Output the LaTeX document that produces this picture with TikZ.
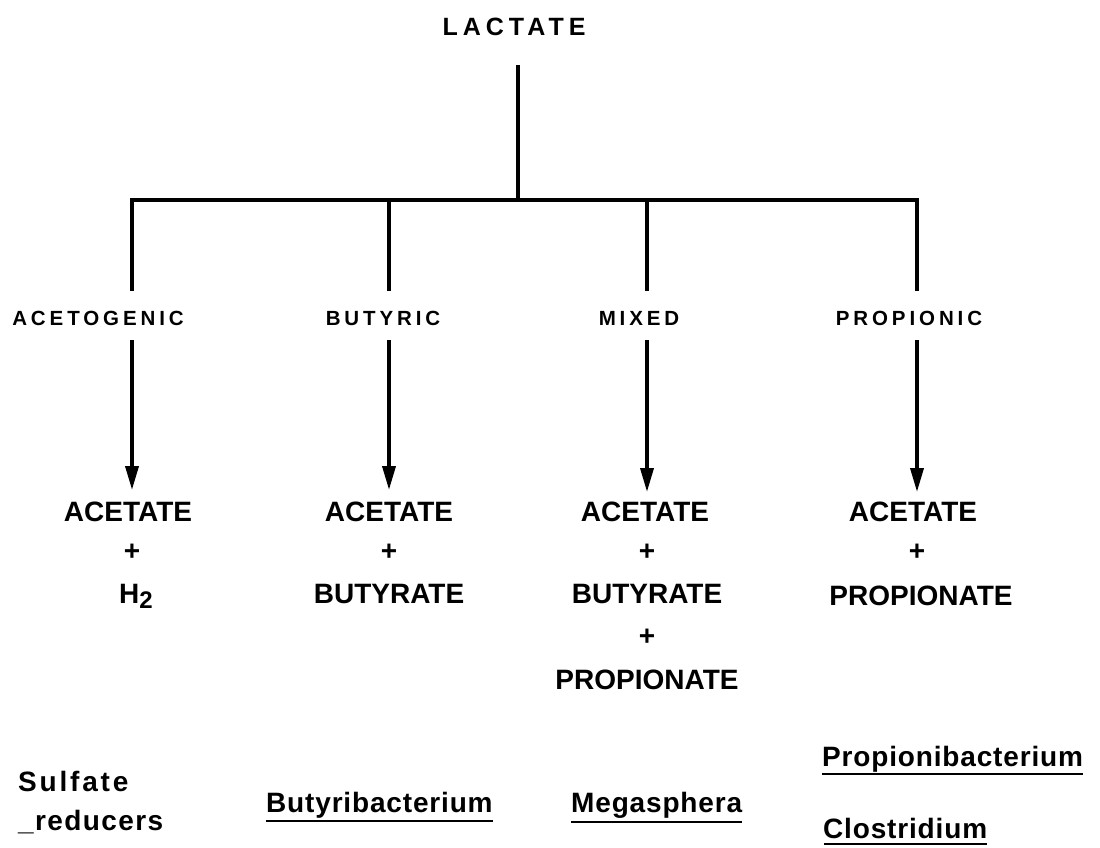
\documentclass[tikz,border=0pt]{standalone}
\usepackage{fontspec}
\setmainfont{Liberation Sans}
\usetikzlibrary{arrows.meta}
\tikzset{
  line/.style={line width=3.6pt},
  arr/.style={line width=3.6pt,-{Triangle[width=13pt,length=24pt]}},
  big/.style={inner sep=0pt,font=\fontsize{28}{34}\selectfont\bfseries},
  top/.style={inner sep=0pt,font=\fontsize{25}{30}\selectfont\bfseries\addfontfeature{LetterSpace=20}},
  lab/.style={inner sep=0pt,font=\fontsize{20.5}{24}\selectfont\bfseries\addfontfeature{LetterSpace=19}},
  org/.style={inner sep=0pt,anchor=base west,font=\fontsize{28}{34}\selectfont\bfseries\addfontfeature{LetterSpace=3}},
  uline/.style={line width=2.6pt}
}
\begin{document}
\begin{tikzpicture}[x=1pt,y=-1pt]
\useasboundingbox[fill=white] (0,0) rectangle (1100,847);
% top
\node[top,anchor=base] (lactate) at (514,35) {LACTATE};
\coordinate (ltop) at (518,65);
\coordinate (hub) at (518,200);
\coordinate (h1) at (132,200);
\coordinate (h2) at (389,200);
\coordinate (h3) at (647,200);
\coordinate (h4) at (917,200);
\draw[line] (ltop) -- (hub);
\draw[line] ([xshift=-1.8pt]h1) -- ([xshift=1.8pt]h4);
% drop ends
\coordinate (d1) at (132,291);
\coordinate (d2) at (389,291);
\coordinate (d3) at (647,291);
\coordinate (d4) at (917,291);
\draw[line] (h1) -- (d1);
\draw[line] (h2) -- (d2);
\draw[line] (h3) -- (d3);
\draw[line] (h4) -- (d4);
% labels
\node[lab,anchor=base] (acetogenic) at (98,325) {ACETOGENIC};
\node[lab,anchor=base] (butyric) at (383,325) {BUTYRIC};
\node[lab,anchor=base] (mixed) at (639,325) {MIXED};
\node[lab,anchor=base] (propionic) at (909,325) {PROPIONIC};
% arrows
\coordinate (a1) at (132,340);
\coordinate (a2) at (389,340);
\coordinate (a3) at (647,340);
\coordinate (a4) at (917,340);
\coordinate (t1) at (132,490);
\coordinate (t2) at (389,490);
\coordinate (t3) at (647,492);
\coordinate (t4) at (917,492);
\draw[arr] (a1) -- (t1);
\draw[arr] (a2) -- (t2);
\draw[arr] (a3) -- (t3);
\draw[arr] (a4) -- (t4);
% products col 1
\node[big,anchor=base] (ac1) at (128,521) {ACETATE};
\node[big] (p11) at (132,552) {+};
\node[big,anchor=base] (h2o) at (136,603) {H\raisebox{-0.4ex}{\fontsize{24}{28}\selectfont 2}};
% col 2
\node[big,anchor=base] (ac2) at (389,521) {ACETATE};
\node[big] (p21) at (389,552) {+};
\node[big,anchor=base] (bu2) at (389,603) {BUTYRATE};
% col 3
\node[big,anchor=base] (ac3) at (645,521) {ACETATE};
\node[big] (p31) at (647,552) {+};
\node[big,anchor=base] (bu3) at (647,603) {BUTYRATE};
\node[big] (p32) at (647,637) {+};
\node[big,anchor=base] (pr3) at (647,689) {PROPIONATE};
% col 4
\node[big,anchor=base] (ac4) at (913,521) {ACETATE};
\node[big] (p41) at (917,552) {+};
\node[big,anchor=base] (pr4) at (921,605) {PROPIONATE};
% organisms
\node[org,font=\fontsize{28}{34}\selectfont\bfseries\addfontfeature{LetterSpace=10}] (sulf) at (18,791) {Sulfate};
\node[org,font=\fontsize{28}{34}\selectfont\bfseries\addfontfeature{LetterSpace=5}] (red) at (18,830) {\_reducers};
\node[org] (buty) at (266,812) {Butyribacterium};
\node[org] (mega) at (571,812) {Megasphera};
\node[org] (prop) at (822,766) {Propionibacterium};
\node[org] (clos) at (823,838) {Clostridium};
\draw[uline] ([yshift=-9pt]buty.base west) -- ([yshift=-9pt]buty.base east);
\draw[uline] ([yshift=-10pt]mega.base west) -- ([yshift=-10pt]mega.base east);
\draw[uline] ([yshift=-8pt]prop.base west) -- ([yshift=-8pt]prop.base east);
\draw[uline] ([yshift=-6pt,xshift=1pt]clos.base west) -- ([yshift=-6pt]clos.base east);
\end{tikzpicture}
\end{document}
